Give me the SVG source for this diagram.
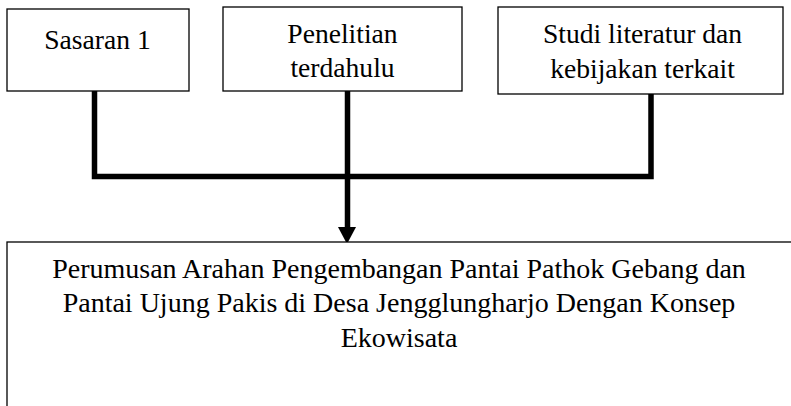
<svg xmlns="http://www.w3.org/2000/svg" width="791" height="406" viewBox="0 0 791 406">
<defs>
<style>
.box{fill:#ffffff;stroke:#000000;stroke-width:1.3}
.t{font-family:"Liberation Serif","Times New Roman",serif;font-size:27.6px;fill:#000000;text-anchor:middle}
.tb{font-size:28px}
.c{fill:none;stroke:#000000;stroke-width:5.5;stroke-linecap:butt;stroke-linejoin:miter}
</style>
</defs>
<rect width="791" height="406" fill="#ffffff"/>
<g id="connectors">
<path class="c" d="M94.5,91 V176.5 H651 V94"/>
<path class="c" d="M347.5,91 V230"/>
<polygon points="338,227 356,227 347,244" fill="#000000"/>
</g>
<g id="sasaran1">
<rect class="box" x="7" y="9" width="182" height="82"/>
<text class="t" x="97.5" y="49">Sasaran 1</text>
</g>
<g id="penelitian">
<rect class="box" x="223" y="7" width="239" height="84"/>
<text class="t" x="342.5" y="43">Penelitian</text>
<text class="t" x="342.5" y="77">terdahulu</text>
</g>
<g id="studi">
<rect class="box" x="498" y="7" width="285" height="87"/>
<text class="t" x="642.5" y="43">Studi literatur dan</text>
<text class="t" x="642.5" y="78">kebijakan terkait</text>
</g>
<g id="perumusan">
<rect class="box" x="7" y="242" width="800" height="180"/>
<text class="t tb" x="399" y="278">Perumusan Arahan Pengembangan Pantai Pathok Gebang dan</text>
<text class="t tb" x="399" y="312">Pantai Ujung Pakis di Desa Jengglungharjo Dengan Konsep</text>
<text class="t tb" x="399" y="347">Ekowisata</text>
</g>
</svg>
